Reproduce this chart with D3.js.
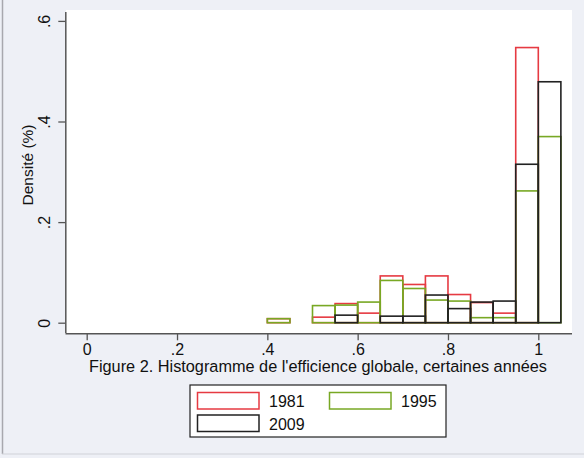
<!DOCTYPE html>
<html><head><meta charset="utf-8">
<script src="https://cdn.jsdelivr.net/npm/d3@7"></script>
<style>body{margin:0;background:#eef0f6;} svg{display:block;font-family:"Liberation Sans",Arial,Helvetica,sans-serif;}</style>
</head><body>
<svg id="c" width="584" height="458"></svg>
<script>
const binStarts = [0.40,0.45,0.50,0.55,0.60,0.65,0.70,0.75,0.80,0.85,0.90,0.95,1.00];
const binWidth = 0.05;
const d1981 = [0.008,0,0.011,0.038,0.019,0.093,0.076,0.093,0.056,0.040,0.019,0.547,0];
const d1995 = [0.008,0,0.034,0.035,0.041,0.084,0.068,0.045,0.043,0.010,0.010,0.262,0.370];
const d2009 = [0,0,0,0.015,0,0.013,0.013,0.055,0.028,0.041,0.043,0.315,0.479];
const seriesNames = ["1981","1995","2009"];
const xTicks = [0,0.2,0.4,0.6,0.8,1];
const xTickLabels = ["0",".2",".4",".6",".8","1"];
const yTicks = [0,0.2,0.4,0.6];
const yTickLabels = ["0",".2",".4",".6"];
const caption = "Figure 2. Histogramme de l'efficience globale, certaines années";
const yTitle = "Densité (%)";

const colors = ["#e63a42","#78a824","#222222"];
const svg = d3.select("#c");

// background + frame
svg.append("rect").attr("x",0).attr("y",0).attr("width",584).attr("height",458).attr("fill","#eef0f6");
svg.append("line").attr("x1",2.5).attr("x2",2.5).attr("y1",0).attr("y2",454).attr("stroke","#a8a8ae").attr("stroke-width",1.5);
svg.append("line").attr("x1",2).attr("x2",584).attr("y1",454).attr("y2",454).attr("stroke","#d0d2d8").attr("stroke-width",1);

// plot region
svg.append("rect").attr("x",66).attr("y",10).attr("width",506).attr("height",323).attr("fill","#ffffff");

const x = d3.scaleLinear().domain([0,1]).range([86.7,538.3]);
const y = d3.scaleLinear().domain([0,0.6]).range([322.7,20.9]);

// bars
const series = [d1981,d1995,d2009];
series.forEach((vals,si)=>{
  const data = binStarts.map((b,i)=>({b,v:vals[i]})).filter(d=>d.v>0);
  svg.append("g").selectAll("rect").data(data).join("rect")
    .attr("x",d=>x(d.b))
    .attr("y",d=>y(d.v))
    .attr("width",d=>x(d.b+binWidth)-x(d.b))
    .attr("height",d=>y(0)-y(d.v))
    .attr("fill","none")
    .attr("stroke",colors[si])
    .attr("stroke-width",1.6);
});

// axes
const axisColor = "#555";
const xa = svg.append("g").attr("transform","translate(0,333.3)")
  .call(d3.axisBottom(x).tickValues(xTicks).tickFormat((d,i)=>xTickLabels[i]).tickSize(7).tickPadding(3));
xa.select(".domain").attr("d","M65.5,0.5H572").attr("stroke",axisColor).attr("stroke-width",1.5);
xa.selectAll(".tick line").attr("stroke",axisColor).attr("stroke-width",1.3);
xa.selectAll(".tick text").attr("font-size",16).attr("fill","#111").attr("font-family","Liberation Sans, Arial, sans-serif");

const ya = svg.append("g").attr("transform","translate(65.3,0)")
  .call(d3.axisLeft(y).tickValues(yTicks).tickFormat((d,i)=>yTickLabels[i]).tickSize(7).tickPadding(3));
ya.select(".domain").attr("d","M0.5,12V333").attr("stroke",axisColor).attr("stroke-width",1.5);
ya.selectAll(".tick line").attr("stroke",axisColor).attr("stroke-width",1.3);
ya.selectAll(".tick text").attr("font-size",16).attr("fill","#111")
  .attr("font-family","Liberation Sans, Arial, sans-serif")
  .attr("text-anchor","middle").attr("dy",0)
  .attr("transform","translate(-15,0) rotate(-90)").attr("x",0).attr("y",0);

// y title
svg.append("text").attr("transform","translate(32.5,165) rotate(-90)")
  .attr("text-anchor","middle").attr("font-size",15.5).attr("fill","#111").text(yTitle);

// caption
svg.append("text").attr("x",318).attr("y",371.5).attr("text-anchor","middle")
  .attr("font-size",16.3).attr("fill","#111").text(caption);

// legend
const lg = svg.append("g");
lg.append("rect").attr("x",190).attr("y",385).attr("width",256).attr("height",52)
  .attr("fill","#ffffff").attr("stroke","#222").attr("stroke-width",1.2);
const legPos = [{sx:197.5,sy:392.5,tx:269,ty:407},{sx:329.5,sy:392.5,tx:401,ty:407},{sx:197.5,sy:415,tx:269,ty:429.5}];
seriesNames.forEach((n,i)=>{
  const p = legPos[i];
  lg.append("rect").attr("x",p.sx).attr("y",p.sy).attr("width",61.5).attr("height",16.5)
    .attr("fill","none").attr("stroke",colors[i]).attr("stroke-width",1.5);
  lg.append("text").attr("x",p.tx).attr("y",p.ty).attr("font-size",16).attr("fill","#111").text(n);
});
</script>
</body></html>
